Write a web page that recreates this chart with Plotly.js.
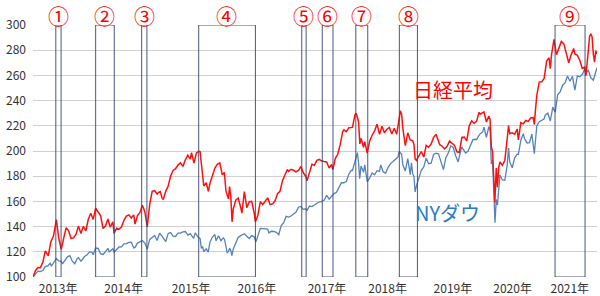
<!DOCTYPE html>
<html><head><meta charset="utf-8">
<script src="https://cdn.plot.ly/plotly-3.0.1.min.js"></script>
<style>html,body{margin:0;padding:0;background:#fff}#chart{width:600px;height:296px}</style>
</head><body><div id="chart"></div>
<script>
// 日経平均 (2013年初=100)
const nikkeiDates = ["2013-01-04","2013-01-18","2013-02-01","2013-02-15","2013-03-01","2013-03-15","2013-04-01","2013-04-15","2013-05-01","2013-05-17","2013-05-31","2013-06-14","2013-06-28","2013-07-12","2013-07-26","2013-08-09","2013-08-23","2013-09-06","2013-09-20","2013-10-04","2013-10-18","2013-11-01","2013-11-15","2013-11-29","2013-12-13","2013-12-27",
"2014-01-10","2014-01-24","2014-02-07","2014-02-21","2014-03-07","2014-03-20","2014-04-04","2014-04-11","2014-04-25","2014-05-09","2014-05-23","2014-06-06","2014-06-20","2014-07-04","2014-07-18","2014-08-01","2014-08-08","2014-08-22","2014-09-05","2014-09-19","2014-10-03","2014-10-17","2014-10-31","2014-11-14","2014-11-28","2014-12-12","2014-12-19","2014-12-30",
"2015-01-09","2015-01-16","2015-01-30","2015-02-13","2015-02-27","2015-03-13","2015-03-27","2015-04-10","2015-04-24","2015-05-08","2015-05-22","2015-06-05","2015-06-19","2015-06-26","2015-07-10","2015-07-24","2015-08-07","2015-08-14","2015-08-21","2015-08-28","2015-09-04","2015-09-18","2015-09-30","2015-10-09","2015-10-23","2015-11-06","2015-11-20","2015-12-04","2015-12-18","2015-12-30",
"2016-01-08","2016-01-15","2016-01-22","2016-01-29","2016-02-05","2016-02-12","2016-02-19","2016-03-04","2016-03-18","2016-04-01","2016-04-08","2016-04-22","2016-05-06","2016-05-20","2016-06-03","2016-06-17","2016-06-24","2016-07-08","2016-07-22","2016-08-05","2016-08-19","2016-09-02","2016-09-16","2016-09-30","2016-10-14","2016-10-28","2016-11-11","2016-11-25","2016-12-09","2016-12-23","2016-12-30",
"2017-01-13","2017-01-27","2017-02-10","2017-02-24","2017-03-10","2017-03-24","2017-04-07","2017-04-14","2017-04-28","2017-05-12","2017-05-26","2017-06-09","2017-06-23","2017-07-07","2017-07-21","2017-08-04","2017-08-18","2017-09-01","2017-09-08","2017-09-22","2017-10-06","2017-10-20","2017-11-03","2017-11-10","2017-11-24","2017-12-08","2017-12-22","2017-12-29",
"2018-01-12","2018-01-19","2018-01-26","2018-02-02","2018-02-09","2018-02-16","2018-03-02","2018-03-09","2018-03-23","2018-04-06","2018-04-20","2018-05-04","2018-05-18","2018-06-01","2018-06-15","2018-06-29","2018-07-13","2018-07-27","2018-08-10","2018-08-24","2018-09-07","2018-09-21","2018-09-28","2018-10-05","2018-10-12","2018-10-26","2018-11-09","2018-11-22","2018-12-07","2018-12-14","2018-12-21","2018-12-28",
"2019-01-11","2019-01-25","2019-02-08","2019-02-22","2019-03-08","2019-03-22","2019-04-05","2019-04-19","2019-05-10","2019-05-24","2019-06-07","2019-06-21","2019-07-05","2019-07-19","2019-08-02","2019-08-16","2019-08-30","2019-09-13","2019-09-27","2019-10-11","2019-10-25","2019-11-08","2019-11-22","2019-12-06","2019-12-20","2019-12-27",
"2020-01-10","2020-01-17","2020-01-31","2020-02-14","2020-02-21","2020-02-28","2020-03-06","2020-03-13","2020-03-19","2020-03-27","2020-04-03","2020-04-10","2020-04-17","2020-05-01","2020-05-15","2020-05-29","2020-06-05","2020-06-12","2020-06-26","2020-07-10","2020-07-24","2020-07-31","2020-08-14","2020-08-28","2020-09-11","2020-09-25","2020-10-09","2020-10-23","2020-10-30","2020-11-06","2020-11-13","2020-11-27","2020-12-11","2020-12-25","2020-12-30",
"2021-01-08","2021-01-22","2021-01-29","2021-02-05","2021-02-12","2021-02-19","2021-03-05","2021-03-19","2021-04-02","2021-04-16","2021-04-30","2021-05-14","2021-05-28","2021-06-11","2021-06-18","2021-07-02","2021-07-16","2021-07-30","2021-08-13","2021-08-20","2021-09-03","2021-09-10","2021-09-17","2021-09-24","2021-10-01","2021-10-08","2021-10-15","2021-10-22"];
const nikkeiValues = [100,105,107.6,107.4,111.6,120.8,116.7,127.6,132.7,145.5,130.4,122,130.9,139.2,136.7,130.5,131,134,140.4,134.5,140.2,136.5,145.8,150.6,145.7,154.6,
151.6,148.8,138.5,140.5,146,139.5,143.7,134.6,138.8,138,139.6,145,148.3,149.3,146.8,149.3,142,148.8,151,156.9,151.9,139.7,157.8,168,168.5,165.8,167,167.8,
162.7,161.5,168,172.2,180.2,184.5,186,188.8,190.5,187.8,193,196.6,193.5,198.6,190.4,198.4,199.7,199.5,190,183,172.2,174.8,168,174.3,181,186.5,189.5,190.5,181.2,183,
168.5,164.9,162,171.8,163.6,143.8,154,161,162.6,155.4,150.7,167.7,155,159.7,160,150.8,143.8,149,159.8,157.5,160.6,162.8,157.4,158,160.5,166.2,168,176.3,181,185.3,183.8,
185.5,184.7,183.5,184.5,187.7,182.7,180,176.3,183.5,189.5,188.7,192.6,193.3,192,191.6,191.3,186.5,189.3,185.3,194,197.4,205,215.3,216.8,215.4,218.5,218.7,218.9,
228.5,230,227,222.5,205.6,210,203,207.5,198.3,208,212.5,216,221.2,213.2,219.7,214.5,217.3,218.7,213.5,218,213.3,228.2,232,229,217.8,204.2,214.4,209,208,205.5,193.6,192.5,
195.8,199.6,195.2,204.5,203,205.5,210.8,213.2,205,203.8,201.6,203.7,208,206.5,204.5,199.4,199,210.7,211,208,220,224,222,223.5,230.7,229.2,
230,231,223,227.8,224.9,203.3,199.5,167.6,159.2,186.4,171.3,187,191.3,188.6,192.7,210.5,220.2,213.7,214.4,213.3,217.5,208.8,222.5,221.5,224.2,223.5,226.2,226.6,221,233.5,244,254.8,255,257.6,263.9,
271.3,274,265.4,276.5,283.7,288.6,276.4,281.5,287,285,277.2,270,276.5,281.4,277,276,272,265.5,266.5,259.7,280.7,291.3,292.7,290.8,277,270.5,279.5,277];

// NYダウ (2013年初=100)
const dowDates = ["2013-01-04","2013-01-18","2013-02-01","2013-02-15","2013-03-01","2013-03-15","2013-03-29","2013-04-12","2013-04-19","2013-05-03","2013-05-17","2013-05-31","2013-06-14","2013-06-21","2013-07-05","2013-07-19","2013-08-02","2013-08-16","2013-08-30","2013-09-13","2013-09-20","2013-10-04","2013-10-11","2013-10-25","2013-11-08","2013-11-22","2013-12-06","2013-12-13","2013-12-27",
"2014-01-10","2014-01-24","2014-02-07","2014-02-21","2014-03-07","2014-03-14","2014-03-28","2014-04-04","2014-04-11","2014-04-25","2014-05-09","2014-05-23","2014-06-06","2014-06-20","2014-07-03","2014-07-18","2014-08-01","2014-08-08","2014-08-22","2014-09-05","2014-09-19","2014-10-03","2014-10-17","2014-10-31","2014-11-14","2014-11-28","2014-12-12","2014-12-26",
"2015-01-09","2015-01-16","2015-01-30","2015-02-13","2015-02-27","2015-03-13","2015-03-27","2015-04-10","2015-04-24","2015-05-08","2015-05-22","2015-06-05","2015-06-19","2015-07-08","2015-07-17","2015-07-31","2015-08-14","2015-08-21","2015-08-28","2015-09-04","2015-09-18","2015-09-29","2015-10-09","2015-10-23","2015-11-06","2015-11-13","2015-11-27","2015-12-11","2015-12-24","2015-12-31",
"2016-01-08","2016-01-15","2016-01-22","2016-01-29","2016-02-05","2016-02-11","2016-02-19","2016-03-04","2016-03-18","2016-04-01","2016-04-15","2016-04-22","2016-05-06","2016-05-20","2016-06-03","2016-06-17","2016-06-27","2016-07-08","2016-07-22","2016-08-05","2016-08-19","2016-09-02","2016-09-09","2016-09-23","2016-10-07","2016-10-21","2016-11-04","2016-11-18","2016-12-02","2016-12-16","2016-12-30",
"2017-01-13","2017-01-27","2017-02-10","2017-02-24","2017-03-10","2017-03-24","2017-04-07","2017-04-13","2017-04-28","2017-05-12","2017-05-26","2017-06-09","2017-06-23","2017-07-07","2017-07-21","2017-08-04","2017-08-18","2017-09-01","2017-09-15","2017-09-29","2017-10-13","2017-10-27","2017-11-10","2017-11-24","2017-12-08","2017-12-22","2017-12-29",
"2018-01-12","2018-01-26","2018-02-02","2018-02-08","2018-02-16","2018-03-02","2018-03-09","2018-03-23","2018-04-06","2018-04-20","2018-05-04","2018-05-18","2018-06-01","2018-06-08","2018-06-22","2018-07-06","2018-07-20","2018-08-03","2018-08-17","2018-08-31","2018-09-14","2018-09-21","2018-10-05","2018-10-12","2018-10-26","2018-11-09","2018-11-23","2018-11-30","2018-12-07","2018-12-14","2018-12-21","2018-12-28",
"2019-01-11","2019-01-25","2019-02-08","2019-02-22","2019-03-08","2019-03-22","2019-04-05","2019-04-19","2019-05-03","2019-05-17","2019-05-31","2019-06-14","2019-06-28","2019-07-12","2019-07-26","2019-08-09","2019-08-23","2019-09-06","2019-09-13","2019-09-27","2019-10-04","2019-10-18","2019-11-01","2019-11-15","2019-11-29","2019-12-06","2019-12-20","2019-12-27",
"2020-01-10","2020-01-17","2020-01-31","2020-02-14","2020-02-21","2020-02-28","2020-03-06","2020-03-13","2020-03-20","2020-03-27","2020-04-03","2020-04-17","2020-05-01","2020-05-15","2020-05-29","2020-06-05","2020-06-12","2020-06-26","2020-07-10","2020-07-24","2020-07-31","2020-08-14","2020-08-28","2020-09-04","2020-09-18","2020-10-02","2020-10-16","2020-10-30","2020-11-13","2020-11-27","2020-12-11","2020-12-24","2020-12-31",
"2021-01-15","2021-01-29","2021-02-12","2021-02-26","2021-03-12","2021-03-26","2021-04-09","2021-04-23","2021-05-07","2021-05-21","2021-06-04","2021-06-18","2021-07-02","2021-07-16","2021-07-30","2021-08-13","2021-08-20","2021-09-03","2021-09-17","2021-10-01","2021-10-15","2021-10-22"];
const dowValues = [100,101.9,104.6,104.3,105.1,108.3,108.8,110.9,108.6,111.7,114.6,112.8,112.5,110.4,112.9,116,116.9,112.5,110.5,114.7,115.3,112.5,113.7,116.2,117.6,119.9,119.6,117.6,123,
122.7,118.5,117.9,120.2,122.8,119.9,121.8,122.5,119.6,122.1,123.8,123.9,126.3,126.5,127.4,127.6,123.1,123.5,126.9,127.9,129,126.9,122.2,129.8,131.6,133,128.9,134.7,
132.4,130.7,128.1,134.5,135.3,132.5,132.2,134.8,134.9,135.8,136.1,133.2,134.4,130.7,135,132,130.4,122.8,124.2,120.2,122.3,119.8,127.5,131.7,133.7,128.7,132.8,128.8,131,130,
122,119.3,120.1,122.9,120.9,116.9,122.3,126.9,131.4,132.8,133.6,134.3,132.4,130.6,132.9,131.9,127.9,133.6,138.6,138.4,138.4,138,135,136.3,136.1,135.4,133.5,140.8,143.1,148.1,147.5,
148.4,150,151.3,155.4,156,153.7,154.1,152.6,156.3,155.9,157.3,158.7,159.7,159.8,161,164.9,161.8,164.1,166.2,167.2,170.7,174.9,174.8,175.8,181.6,184.7,184.5,
192.6,198.6,190.5,178.1,188.2,183.1,189.1,175.6,178.6,182.6,181.1,184.4,183.8,188.9,183.4,182.5,187,190,191.6,193.8,195.2,199.6,197.4,189.1,184.2,194,181.2,190.6,182,179.9,167.5,172.1,
179.1,184.6,187.4,194.3,189.9,190.3,197.2,198.2,197.8,192.3,185.2,194.7,198.5,204,202.9,196.2,191.3,200,203.1,200.1,198.3,199.8,204.1,209,209.3,209.1,212.4,213.8,
215.1,219,210.9,219.4,216.4,189.6,193,173,143.1,161.5,157.1,180.9,177,176.8,189.4,202.3,191.1,186.7,194.6,197.5,197.2,208.4,213.8,209.9,206.4,206.6,213.5,197.8,220,223.2,224.2,225.4,228.4,
230,223.8,234.8,230.8,244.6,246.8,252.2,254,259.5,255.3,259.4,248.4,259.6,258.9,260.7,265,262.1,264,258.1,256.2,263.4,266.2];

// 期間 ①〜⑨
const periodLabels = ["①","②","③","④","⑤","⑥","⑦","⑧","⑨"];
const periodStart = ["2013-05-14","2013-12-27","2014-09-15","2015-08-06","2017-03-15","2017-07-10","2018-01-17","2018-09-22","2021-02-25"];
const periodEnd   = ["2013-06-13","2014-04-12","2014-10-15","2016-06-24","2017-04-09","2017-09-09","2018-03-26","2019-01-03","2021-08-15"];

// 年の目盛
const yearTickDates = ["2013-05-27","2014-06-04","2015-06-24","2016-07-02","2017-08-06","2018-07-17","2019-07-24","2020-06-28","2021-05-20"];
const yearTickText = ["2013年","2014年","2015年","2016年","2017年","2018年","2019年","2020年","2021年"];

const jp = "Noto Sans CJK JP, Liberation Sans, sans-serif";
function mid(a,b){const t=(new Date(a).getTime()+new Date(b).getTime())/2;return new Date(t).toISOString().slice(0,10);}

const shapes = periodStart.map((s,i)=>({type:'rect',xref:'x',yref:'y',x0:s,x1:periodEnd[i],y0:100,y1:300,
  line:{color:'rgba(52,70,110,0.9)',width:1},fillcolor:'rgba(0,0,0,0)',layer:'above'}));
const annotations = periodLabels.map((l,i)=>({x:mid(periodStart[i],periodEnd[i]),xref:'x',yref:'paper',y:1.038,yanchor:'middle',
  text:l,showarrow:false,borderpad:0,font:{family:jp,size:21,color:'#ff0000'}}));
annotations.push({x:'2019-07-24',y:249,xref:'x',yref:'y',text:'日経平均',showarrow:false,font:{family:jp,size:20,color:'#ff0000'}});
annotations.push({x:'2019-06-26',y:151,xref:'x',yref:'y',text:'NYダウ',showarrow:false,font:{family:jp,size:20,color:'#2a7cc4'}});

const data = [
  {x:dowDates,y:dowValues,type:'scatter',mode:'lines',line:{color:'#5582bb',width:1.3},hoverinfo:'skip'},
  {x:nikkeiDates,y:nikkeiValues,type:'scatter',mode:'lines',line:{color:'#ff1010',width:1.5},hoverinfo:'skip'}
];
const layout = {
  width:600,height:296,margin:{l:33,r:3,t:25,b:19},
  paper_bgcolor:'#fff',plot_bgcolor:'#fff',showlegend:false,
  font:{family:jp,size:12,color:'#333'},
  xaxis:{type:'date',range:['2013-01-04','2021-10-22'],showgrid:false,zeroline:false,
    showline:false,tickmode:'array',tickvals:yearTickDates,ticktext:yearTickText,ticks:'',
    tickfont:{family:jp,size:12,color:'#333'},ticklabelstandoff:3},
  yaxis:{range:[100,300],tickmode:'linear',tick0:100,dtick:20,showgrid:true,gridcolor:'#d0d0d0',gridwidth:1,
    zeroline:false,showline:false,ticks:'',tickfont:{family:jp,size:12,color:'#333'},ticklabelstandoff:6},
  shapes:shapes,annotations:annotations
};
Plotly.newPlot('chart',data,layout,{staticPlot:true,displayModeBar:false});
</script></body></html>
